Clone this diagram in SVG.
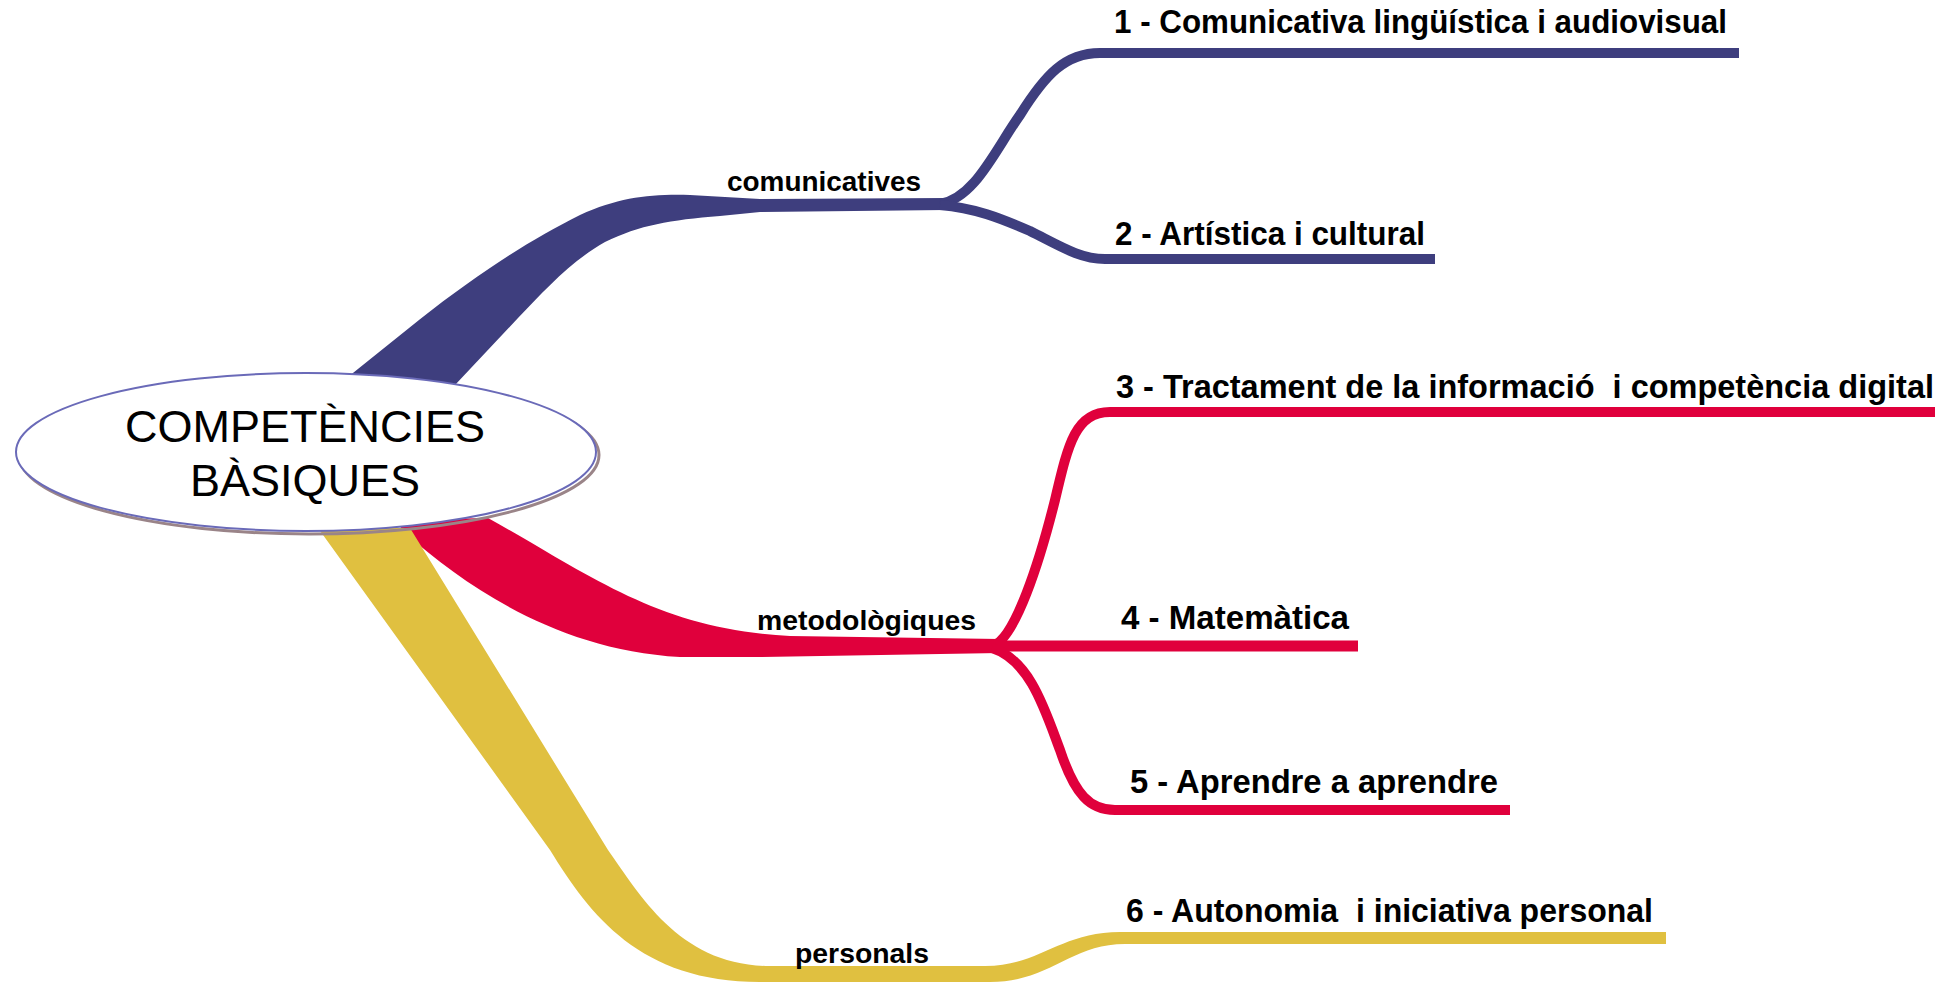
<svg xmlns="http://www.w3.org/2000/svg" width="1957" height="983" viewBox="0 0 1957 983">
<style>
.bg{fill:#ffffff}
.blue{fill:#3e3e7e}
.red{fill:#e0003c}
.yel{fill:#e0c040}
.sb{fill:none;stroke:#3e3e7e;stroke-width:10}
.sr{fill:none;stroke:#e0003c;stroke-width:10}
.sy{fill:none;stroke:#e0c040;stroke-width:11}
.leaf{font-family:"Liberation Sans",Arial,sans-serif;font-weight:bold;font-size:33px;fill:#000}
.mid{font-family:"Liberation Sans",Arial,sans-serif;font-weight:bold;font-size:27px;fill:#000}
.ctr{font-family:"Liberation Sans",Arial,sans-serif;font-size:45px;fill:#000;text-anchor:middle}
</style>
<rect class="bg" x="0" y="0" width="1957" height="983"/>
<g id="connectors">
  <!-- blue branch -->
  <path class="blue" d="M 338,385 L 419,320 C 480,272 530,240 580,215 C 620,197 650,194 690,195 L 760,199 L 946,198 L 946,210 L 760,212 L 720,216 C 670,220 640,225 605,242 C 570,262 545,290 518,318 L 455,385 Z"/>
  <path class="sb" d="M 940,204 C 975,198 995,150 1020,115 C 1045,75 1065,53 1100,53 L 1739,53"/>
  <path class="sb" d="M 940,205 C 975,208 1000,218 1030,231 C 1060,246 1080,259 1105,259 L 1435,259"/>
  <!-- red branch -->
  <path class="red" d="M 395,520 L 488,518 C 590,575 660,630 790,636 L 1000,639 L 1000,653 L 760,657 L 680,657 C 560,650 470,590 405,533 Z"/>
  <path class="sr" d="M 992,646 C 1015,640 1040,560 1055,500 C 1068,445 1075,412 1110,412 L 1935,412"/>
  <path class="sr" style="stroke-width:11" d="M 990,646 L 1358,646"/>
  <path class="sr" d="M 992,648 C 1030,660 1045,710 1060,750 C 1075,795 1090,810 1115,810 L 1510,810"/>
  <!-- yellow branch -->
  <path class="yel" d="M 318,528 L 410,528 L 608,850 C 640,895 680,966 770,966 L 985,966 C 1040,966 1060,932 1120,932 L 1666,932 L 1666,944 L 1125,944 C 1070,944 1050,982 990,982 L 760,982 C 640,982 590,915 550,850 Z"/>
</g>
<g id="center">
  <ellipse cx="309" cy="455" rx="290" ry="79" fill="none" stroke="#9a8488" stroke-width="3"/>
  <ellipse cx="306" cy="452" rx="290" ry="79" fill="#ffffff" stroke="#6a6ab8" stroke-width="2"/>
  <text class="ctr" x="305" y="442">COMPETÈNCIES</text>
  <text class="ctr" x="305" y="496">BÀSIQUES</text>
</g>
<g id="comunicatives">
  <text class="mid" x="727" y="191" textLength="194" lengthAdjust="spacingAndGlyphs">comunicatives</text>
</g>
<g id="metodologiques">
  <text class="mid" x="757" y="630" textLength="219" lengthAdjust="spacingAndGlyphs">metodològiques</text>
</g>
<g id="personals">
  <text class="mid" x="795" y="963" textLength="134" lengthAdjust="spacingAndGlyphs">personals</text>
</g>
<g id="c1">
  <text class="leaf" x="1114" y="33" textLength="613" lengthAdjust="spacingAndGlyphs">1 - Comunicativa lingüística i audiovisual</text>
</g>
<g id="c2">
  <text class="leaf" x="1115" y="245" textLength="310" lengthAdjust="spacingAndGlyphs">2 - Artística i cultural</text>
</g>
<g id="c3">
  <text class="leaf" x="1116" y="398" textLength="818" lengthAdjust="spacingAndGlyphs" xml:space="preserve">3 - Tractament de la informació  i competència digital</text>
</g>
<g id="c4">
  <text class="leaf" x="1121" y="629" textLength="228" lengthAdjust="spacingAndGlyphs">4 - Matemàtica</text>
</g>
<g id="c5">
  <text class="leaf" x="1130" y="793" textLength="368" lengthAdjust="spacingAndGlyphs">5 - Aprendre a aprendre</text>
</g>
<g id="c6">
  <text class="leaf" x="1126" y="922" textLength="527" lengthAdjust="spacingAndGlyphs" xml:space="preserve">6 - Autonomia  i iniciativa personal</text>
</g>
</svg>
